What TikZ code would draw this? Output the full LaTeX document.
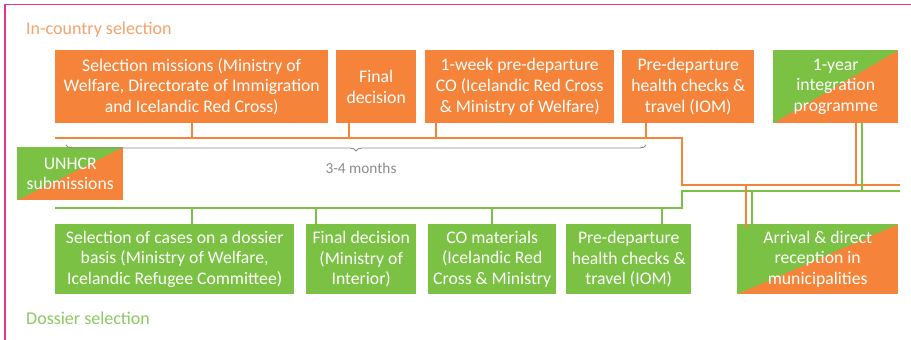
\documentclass[tikz,border=0pt]{standalone}
\usepackage{fontspec}
\setmainfont{Carlito}
\usetikzlibrary{decorations.pathreplacing}
\definecolor{cor}{HTML}{F5843A}
\definecolor{cgr}{HTML}{7BC143}
\definecolor{lor}{HTML}{F3A36B}
\definecolor{lgr}{HTML}{8CC963}
\definecolor{cgy}{HTML}{8C8C8C}
\definecolor{cpk}{HTML}{E6338C}
\begin{document}
\begin{tikzpicture}[x=1pt,y=-1pt,
  box/.style={anchor=north west,inner sep=0pt,text=white,align=center,
    font=\fontsize{17.7}{20.7}\selectfont},
  obox/.style={box,fill=cor},
  gbox/.style={box,fill=cgr},
  sbox/.style={box,fill=cor,path picture={\fill[cgr] (path picture bounding box.south west) -- (path picture bounding box.north west) -- (path picture bounding box.north east) -- cycle;}},
  oline/.style={draw=cor,line width=2.4pt},
  gline/.style={draw=cgr,line width=2.4pt},
  otick/.style={draw=cor,line width=2pt},
  gtick/.style={draw=cgr,line width=2pt},
  lbl/.style={anchor=west,inner sep=0pt,font=\fontsize{18}{20}\selectfont}
]
\useasboundingbox (0,0) rectangle (911,340);
\fill[white] (0,0) rectangle (911,340);
% frame
\coordinate (f1) at (912,4.5);
\coordinate (f2) at (5,4.5);
\coordinate (f3) at (5,341);
\draw[cpk,line width=1.4pt] (f1) -- (f2) -- (f3);

% labels
\node[lbl,text=lor] (lin) at (26,30) {In-country selection};
\node[lbl,text=lgr] (ldo) at (26,318) {Dossier selection};

% top row
\node[obox,minimum width=273pt,minimum height=73pt] (o1) at (55,50) {Selection missions (Ministry of\\Welfare, Directorate of Immigration\\and Icelandic Red Cross)};
\node[obox,minimum width=80pt,minimum height=73pt] (o2) at (336,50) {Final\\decision};
\node[obox,minimum width=189pt,minimum height=73pt] (o3) at (425,50) {1-week pre-departure\\CO (Icelandic Red Cross\\\& Ministry of Welfare)};
\node[obox,minimum width=132pt,minimum height=73pt] (o4) at (622,50) {Pre-departure\\health checks \&\\travel (IOM)};
\node[sbox,minimum width=125pt,minimum height=73pt] (o5) at (773,50) {1-year\\integration\\programme};

% UNHCR
\node[sbox,minimum width=106pt,minimum height=53pt] (u) at (17,147) {UNHCR\\submissions};

% bottom row
\node[gbox,minimum width=239pt,minimum height=70pt] (g1) at (55,224) {Selection of cases on a dossier\\basis (Ministry of Welfare,\\Icelandic Refugee Committee)};
\node[gbox,minimum width=110pt,minimum height=70pt] (g2) at (306,224) {Final decision\\(Ministry of\\Interior)};
\node[gbox,minimum width=128pt,minimum height=70pt] (g3) at (428,224) {CO materials\\(Icelandic Red\\Cross \& Ministry};
\node[gbox,minimum width=125pt,minimum height=70pt] (g4) at (566,224) {Pre-departure\\health checks \&\\travel (IOM)};
\node[sbox,minimum width=161pt,minimum height=70pt] (a) at (737,224) {Arrival \& direct\\reception in\\municipalities};

% bus coordinates
\coordinate (obs) at (55,138);
\coordinate (obc1) at (682,138);
\coordinate (obc2) at (682,185);
\coordinate (obe) at (900,185);
\coordinate (gbs) at (55,208);
\coordinate (gbc1) at (682,208);
\coordinate (gbc2) at (682,191);
\coordinate (gbe) at (900,191);

\draw[gline] (gbs) -- (gbc1) -- (gbc2) -- (gbe);
\draw[oline] (obs) -- (obc1) -- (obc2) -- (obe);

% orange ticks
\coordinate (t1) at (192,138);
\coordinate (t2) at (349,138);
\coordinate (t3) at (436,138);
\coordinate (t4) at (646,138);
\draw[otick] (o1.south -| t1) -- (t1);
\draw[otick] (o2.south -| t2) -- (t2);
\draw[otick] (o3.south -| t3) -- (t3);
\draw[otick] (o4.south -| t4) -- (t4);

% green ticks
\coordinate (s1) at (192,208);
\coordinate (s2) at (316,208);
\coordinate (s3) at (492,208);
\coordinate (s4) at (662,208);
\draw[gtick] (g1.north -| s1) -- (s1);
\draw[gtick] (g2.north -| s2) -- (s2);
\draw[gtick] (g3.north -| s3) -- (s3);
\draw[gtick] (g4.north -| s4) -- (s4);

% integration programme links
\coordinate (yo) at (856,185);
\coordinate (yg) at (862,191);
\draw[otick] (o5.south -| yo) -- (yo);
\draw[gtick] (o5.south -| yg) -- (yg);

% arrival links
\coordinate (ag) at (752,191);
\coordinate (ao) at (746,185);
\coordinate (aoe) at (746,228);
\draw[gtick] (ag) -- (a.north -| ag);
\draw[otick] (ao) -- (aoe);

% brace
\coordinate (br1) at (646,145);
\coordinate (br2) at (66,145);
\draw[cgy,line width=0.9pt,decorate,decoration={brace,amplitude=6pt}] (br1) -- (br2);
\node[text=cgy,font=\fontsize{15.3}{17}\selectfont,inner sep=0pt] (mo) at (361,168) {3-4 months};
\end{tikzpicture}
\end{document}
